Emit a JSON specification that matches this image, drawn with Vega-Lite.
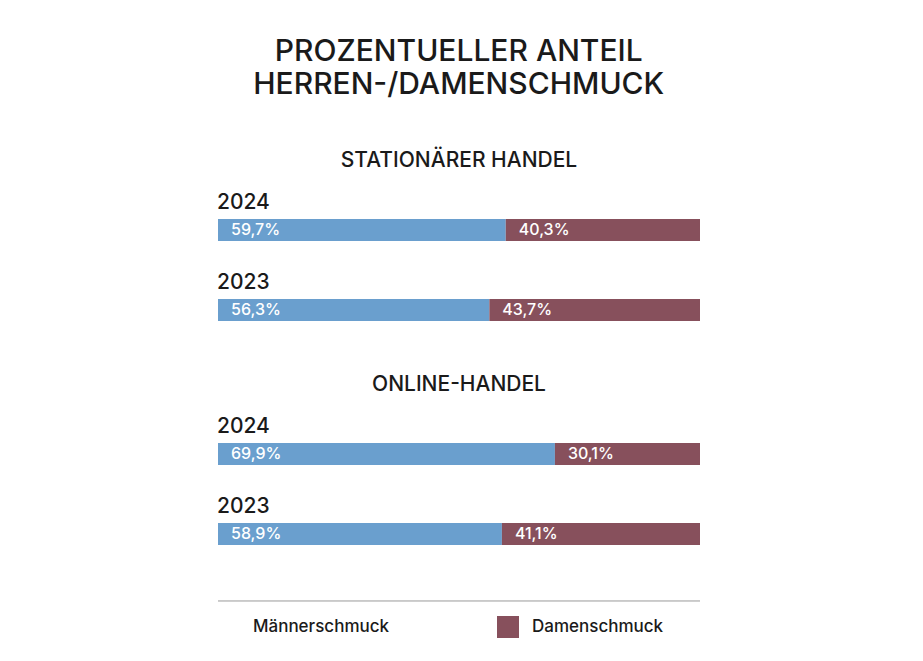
{
  "$schema": "https://vega.github.io/schema/vega-lite/v6.json",
  "background": "white",
  "padding": {"left": 217, "top": 37, "right": 224, "bottom": 10},
  "title": {
    "text": ["PROZENTUELLER ANTEIL", "HERREN-/DAMENSCHMUCK"],
    "fontSize": 30, "font": "Inter", "fontWeight": 500, "color": "#1a1a1a",
    "lineHeight": 33, "anchor": "middle", "offset": 50
  },
  "datasets": {
    "d": [
      {"section": "Stationärer Handel", "year": "2024", "category": "Männerschmuck", "value": 0.597},
      {"section": "Stationärer Handel", "year": "2024", "category": "Damenschmuck", "value": 0.403},
      {"section": "Stationärer Handel", "year": "2023", "category": "Männerschmuck", "value": 0.563},
      {"section": "Stationärer Handel", "year": "2023", "category": "Damenschmuck", "value": 0.437},
      {"section": "Online-Handel", "year": "2024", "category": "Männerschmuck", "value": 0.699},
      {"section": "Online-Handel", "year": "2024", "category": "Damenschmuck", "value": 0.301},
      {"section": "Online-Handel", "year": "2023", "category": "Männerschmuck", "value": 0.589},
      {"section": "Online-Handel", "year": "2023", "category": "Damenschmuck", "value": 0.411}
    ]
  },
  "vconcat": [
    {
      "title": {"text": "STATIONÄRER HANDEL", "fontSize": 21, "fontWeight": 500, "font": "Inter", "color": "#1a1a1a", "anchor": "middle", "offset": 19},
      "width": 482, "height": 160,
      "data": {"name": "d"},
      "transform": [
        {"filter": "datum.section === 'Stationärer Handel'"},
        {"stack": "value", "groupby": ["year"], "sort": [{"field": "category", "order": "descending"}], "as": ["x0", "x1"]}
      ],
      "encoding": {"y": {"field": "year", "type": "nominal", "sort": "descending", "axis": null, "scale": {"paddingInner": 0, "paddingOuter": 0}}},
      "layer": [
        {
          "mark": {"type": "bar", "height": 22},
          "encoding": {
            "x": {"field": "x0", "type": "quantitative", "axis": null, "scale": {"domain": [0, 1]}},
            "x2": {"field": "x1"},
            "color": {
              "field": "category", "type": "nominal",
              "scale": {"domain": ["Männerschmuck", "Damenschmuck"], "range": ["#6A9FCE", "#87505C"]},
              "legend": {"encode": {"symbols": {"update": {"opacity": [{"test": "datum.value === 'Männerschmuck'", "value": 0}, {"value": 1}]}}}}
            }
          }
        },
        {
          "mark": {"type": "text", "align": "left", "dx": 13, "baseline": "middle", "color": "white", "fontSize": 16, "font": "Inter", "fontWeight": 500},
          "encoding": {
            "x": {"field": "x0", "type": "quantitative"},
            "text": {"field": "value", "type": "quantitative", "format": ".1%"}
          }
        },
        {
          "transform": [{"filter": "datum.category === 'Männerschmuck'"}],
          "mark": {"type": "text", "align": "left", "baseline": "middle", "dy": -27, "dx": -1, "fontSize": 21, "font": "Inter", "fontWeight": 500, "color": "#1a1a1a"},
          "encoding": {
            "x": {"datum": 0, "type": "quantitative"},
            "text": {"field": "year", "type": "nominal"}
          }
        }
      ]
    },
    {
      "title": {"text": "ONLINE-HANDEL", "fontSize": 21, "fontWeight": 500, "font": "Inter", "color": "#1a1a1a", "anchor": "middle", "offset": 19},
      "width": 482, "height": 160,
      "data": {"name": "d"},
      "transform": [
        {"filter": "datum.section === 'Online-Handel'"},
        {"stack": "value", "groupby": ["year"], "sort": [{"field": "category", "order": "descending"}], "as": ["x0", "x1"]}
      ],
      "encoding": {"y": {"field": "year", "type": "nominal", "sort": "descending", "axis": null, "scale": {"paddingInner": 0, "paddingOuter": 0}}},
      "layer": [
        {
          "mark": {"type": "bar", "height": 22},
          "encoding": {
            "x": {"field": "x0", "type": "quantitative", "axis": null, "scale": {"domain": [0, 1]}},
            "x2": {"field": "x1"},
            "color": {
              "field": "category", "type": "nominal",
              "scale": {"domain": ["Männerschmuck", "Damenschmuck"], "range": ["#6A9FCE", "#87505C"]},
              "legend": {"encode": {"symbols": {"update": {"opacity": [{"test": "datum.value === 'Männerschmuck'", "value": 0}, {"value": 1}]}}}}
            }
          }
        },
        {
          "mark": {"type": "text", "align": "left", "dx": 13, "baseline": "middle", "color": "white", "fontSize": 16, "font": "Inter", "fontWeight": 500},
          "encoding": {
            "x": {"field": "x0", "type": "quantitative"},
            "text": {"field": "value", "type": "quantitative", "format": ".1%"}
          }
        },
        {
          "transform": [{"filter": "datum.category === 'Männerschmuck'"}],
          "mark": {"type": "text", "align": "left", "baseline": "middle", "dy": -27, "dx": -1, "fontSize": 21, "font": "Inter", "fontWeight": 500, "color": "#1a1a1a"},
          "encoding": {
            "x": {"datum": 0, "type": "quantitative"},
            "text": {"field": "year", "type": "nominal"}
          }
        }
      ]
    },
    {
      "width": 482, "height": 11,
      "data": {"values": [{"k": 1}]},
      "mark": {"type": "rule", "color": "#9a9a9a", "strokeWidth": 1},
      "encoding": {"y": {"datum": 0.73, "type": "quantitative", "scale": {"domain": [0, 1]}, "axis": null}}
    }
  ],
  "spacing": 24,
  "resolve": {"scale": {"color": "shared"}},
  "config": {
    "view": {"stroke": null},
    "locale": {"number": {"decimal": ",", "thousands": ".", "grouping": [3], "currency": ["", " €"]}},
    "legend": {
      "title": null, "orient": "bottom", "direction": "horizontal",
      "symbolType": "square", "symbolSize": 484, "symbolStrokeWidth": 0,
      "labelFontSize": 17, "labelFont": "Inter", "labelFontWeight": 500, "labelColor": "#1a1a1a",
      "labelOffset": 13, "columnPadding": 107, "offset": 7, "padding": 0,
      "symbolOpacity": 1
    }
  }
}
